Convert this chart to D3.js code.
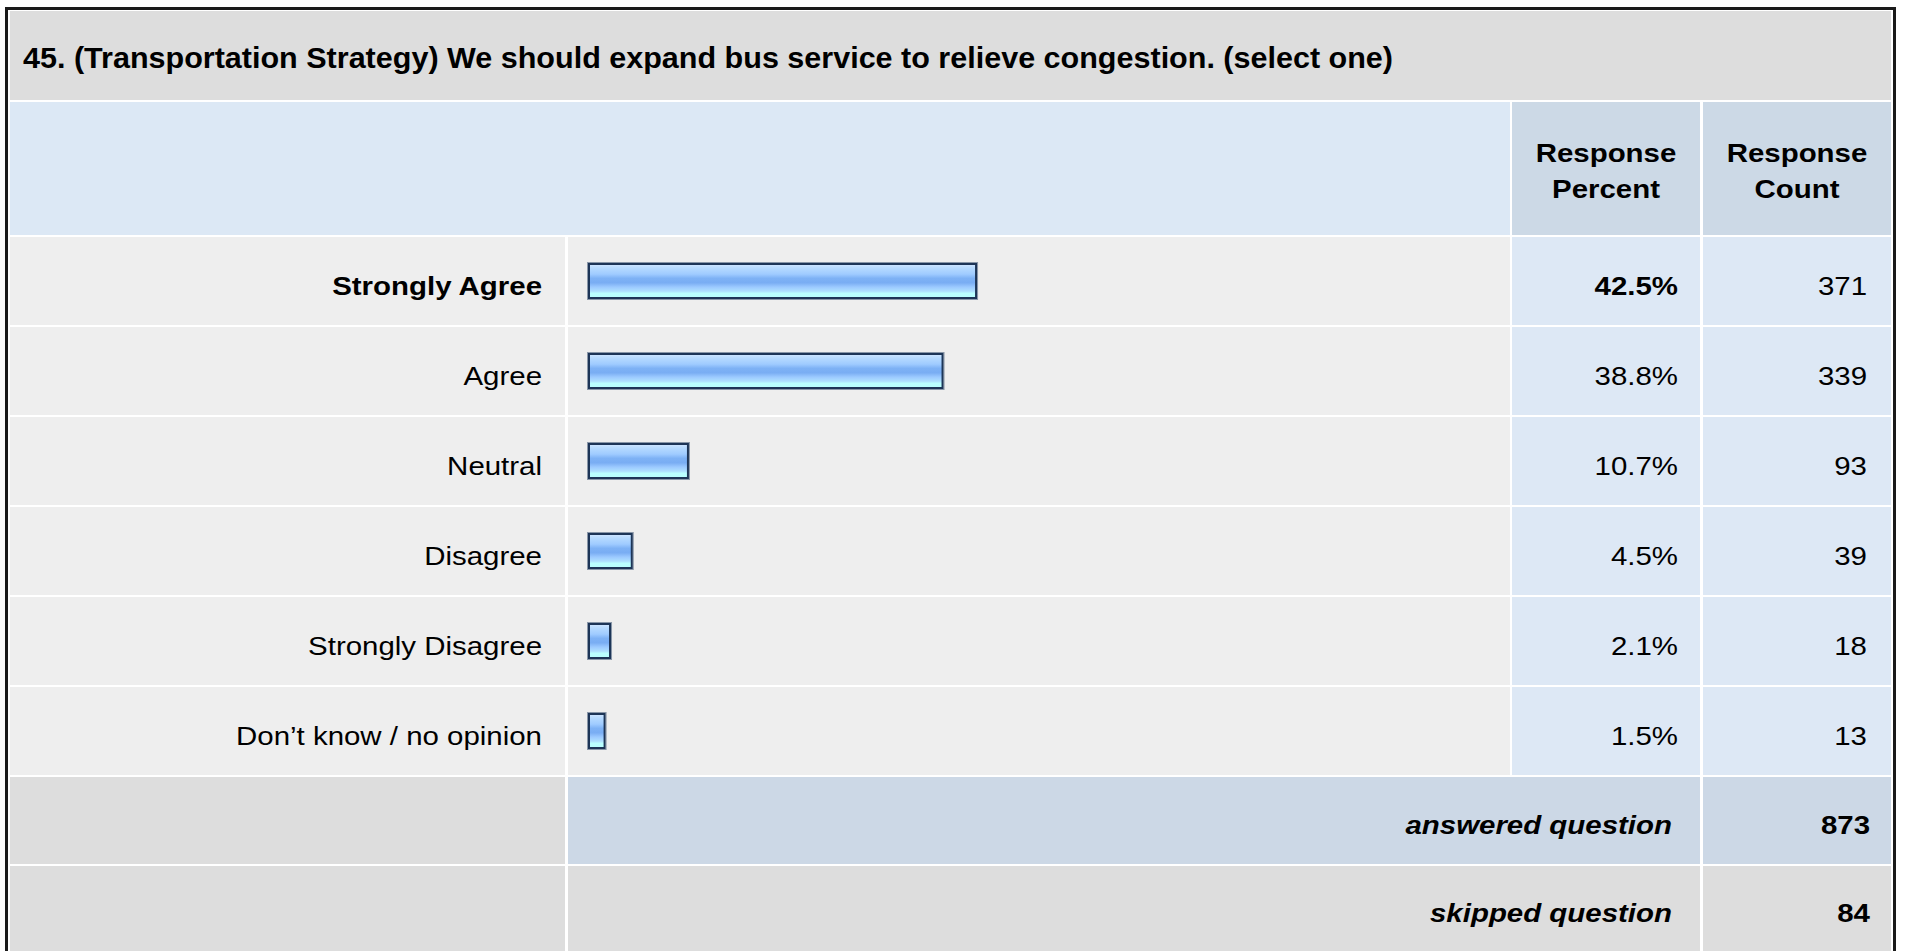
<!DOCTYPE html>
<html>
<head>
<meta charset="utf-8">
<script src="https://cdn.jsdelivr.net/npm/d3@7"></script>
<style>
  body { margin: 0; background: #fff; }
  svg { display: block; font-family: "Liberation Sans", Arial, sans-serif; }
</style>
</head>
<body>
<svg id="chart"></svg>
<script>
// survey data
let title = "45. (Transportation Strategy) We should expand bus service to relieve congestion. (select one)"
let answers = ["Strongly Agree", "Agree", "Neutral", "Disagree", "Strongly Disagree", "Don\u2019t know / no opinion"]
let percents = [42.5, 38.8, 10.7, 4.5, 2.1, 1.5]
let counts = [371, 339, 93, 39, 18, 13]
let headers = [["Response", "Percent"], ["Response", "Count"]]
let answeredCount = 873
let skippedCount = 84

let width = 1907
let height = 951

// columns
let colLabel = [10, 565]
let colBar = [568, 1510]
let colPct = [1512, 1700]
let colCount = [1703, 1891]

let rowTop = 237
let rowPitch = 90
let rowH = 88
let sx = 1.15   // the original text is drawn a bit wide
let fs = 25.6

let svg = d3.select("#chart").attr("width", width).attr("height", height)

let defs = svg.append("defs")
let grad = defs.append("linearGradient").attr("id", "barGrad")
    .attr("x1", 0).attr("y1", 0).attr("x2", 0).attr("y2", 1)
let stops = [[0, "#d2e6ff"], [0.12, "#b6daff"], [0.3, "#9fcbff"], [0.42, "#7eb2f5"],
             [0.55, "#79adf3"], [0.68, "#9ccaff"], [0.8, "#aee0ff"], [0.86, "#baffff"], [1, "#b8ffff"]]
grad.selectAll("stop").data(stops).join("stop")
    .attr("offset", d => d[0])
    .attr("stop-color", d => d[1])

function cell(x0, x1, y, h, fill) {
    svg.append("rect").attr("x", x0).attr("y", y).attr("width", x1 - x0).attr("height", h).attr("fill", fill)
}

function label(x, y, txt, anchor, bold, italic) {
    svg.append("text")
        .attr("transform", "translate(" + x + "," + y + ") scale(" + sx + ",1)")
        .attr("text-anchor", anchor)
        .attr("font-size", fs)
        .attr("font-weight", bold ? "bold" : "normal")
        .attr("font-style", italic ? "italic" : "normal")
        .attr("fill", "#000")
        .text(txt)
}

// title band
cell(colLabel[0], colCount[1], 11, 89, "#dddddd")
svg.append("text")
    .attr("x", 23).attr("y", 68)
    .attr("font-size", 30).attr("font-weight", "bold")
    .attr("textLength", 1370).attr("lengthAdjust", "spacingAndGlyphs")
    .text(title)

// header row
cell(colLabel[0], colBar[1], 102, 133, "#dce8f5")
cell(colPct[0], colPct[1], 102, 133, "#ccd9e6")
cell(colCount[0], colCount[1], 102, 133, "#ccd9e6")
let hcols = [colPct, colCount]
headers.forEach((h, i) => {
    let cx = (hcols[i][0] + hcols[i][1]) / 2
    label(cx, 162, h[0], "middle", true)
    label(cx, 198, h[1], "middle", true)
})

// bar scale
let x = d3.scaleLinear().domain([0, 100]).range([0, 906])
let barX = 588
let barH = 36

let rows = answers.map((a, i) => ({answer: a, pct: percents[i], count: counts[i], i: i}))

rows.forEach(d => {
    let y = rowTop + d.i * rowPitch
    cell(colLabel[0], colLabel[1], y, rowH, "#eeeeee")
    cell(colBar[0], colBar[1], y, rowH, "#eeeeee")
    cell(colPct[0], colPct[1], y, rowH, "#dde8f5")
    cell(colCount[0], colCount[1], y, rowH, "#dde8f5")
})

let bars = svg.append("g")
bars.selectAll(".halo").data(rows).join("rect")
    .attr("class", "halo")
    .attr("x", barX - 0.5)
    .attr("y", d => rowTop + d.i * rowPitch + (rowH - barH) / 2 - 0.5)
    .attr("width", d => x(d.pct) + 5)
    .attr("height", barH + 1)
    .attr("fill", "none")
    .attr("stroke", "#8a97a8")
    .attr("stroke-width", 1)
bars.selectAll(".bar").data(rows).join("rect")
    .attr("class", "bar")
    .attr("x", barX + 1)
    .attr("y", d => rowTop + d.i * rowPitch + (rowH - barH) / 2 + 1)
    .attr("width", d => x(d.pct) + 2)
    .attr("height", barH - 2)
    .attr("fill", "url(#barGrad)")
    .attr("stroke", "#1d3557")
    .attr("stroke-width", 2)

rows.forEach(d => {
    let y = rowTop + d.i * rowPitch + 58
    let bold = d.i === 0
    label(colLabel[1] - 23, y, d.answer, "end", bold)
    label(colPct[1] - 22, y, d.pct.toFixed(1) + "%", "end", bold)
    label(colCount[1] - 24, y, d.count, "end", false)
})

// summary rows
let ansY = 777
cell(colLabel[0], colLabel[1], ansY, 87, "#dddddd")
cell(colBar[0], colPct[1], ansY, 87, "#ccd8e6")
cell(colCount[0], colCount[1], ansY, 87, "#ccd8e6")
label(colPct[1] - 28, ansY + 57, "answered question", "end", true, true)
label(colCount[1] - 21, ansY + 57, answeredCount, "end", true)

let skipY = 866
cell(colLabel[0], colLabel[1], skipY, 90, "#dddddd")
cell(colBar[0], colPct[1], skipY, 90, "#dddddd")
cell(colCount[0], colCount[1], skipY, 90, "#dddddd")
label(colPct[1] - 28, skipY + 56, "skipped question", "end", true, true)
label(colCount[1] - 21, skipY + 56, skippedCount, "end", true)

// outer frame
svg.append("rect")
    .attr("x", 6.5).attr("y", 8.5)
    .attr("width", 1888).attr("height", 960)
    .attr("fill", "none")
    .attr("stroke", "#1a1a1a")
    .attr("stroke-width", 3)
</script>
</body>
</html>
